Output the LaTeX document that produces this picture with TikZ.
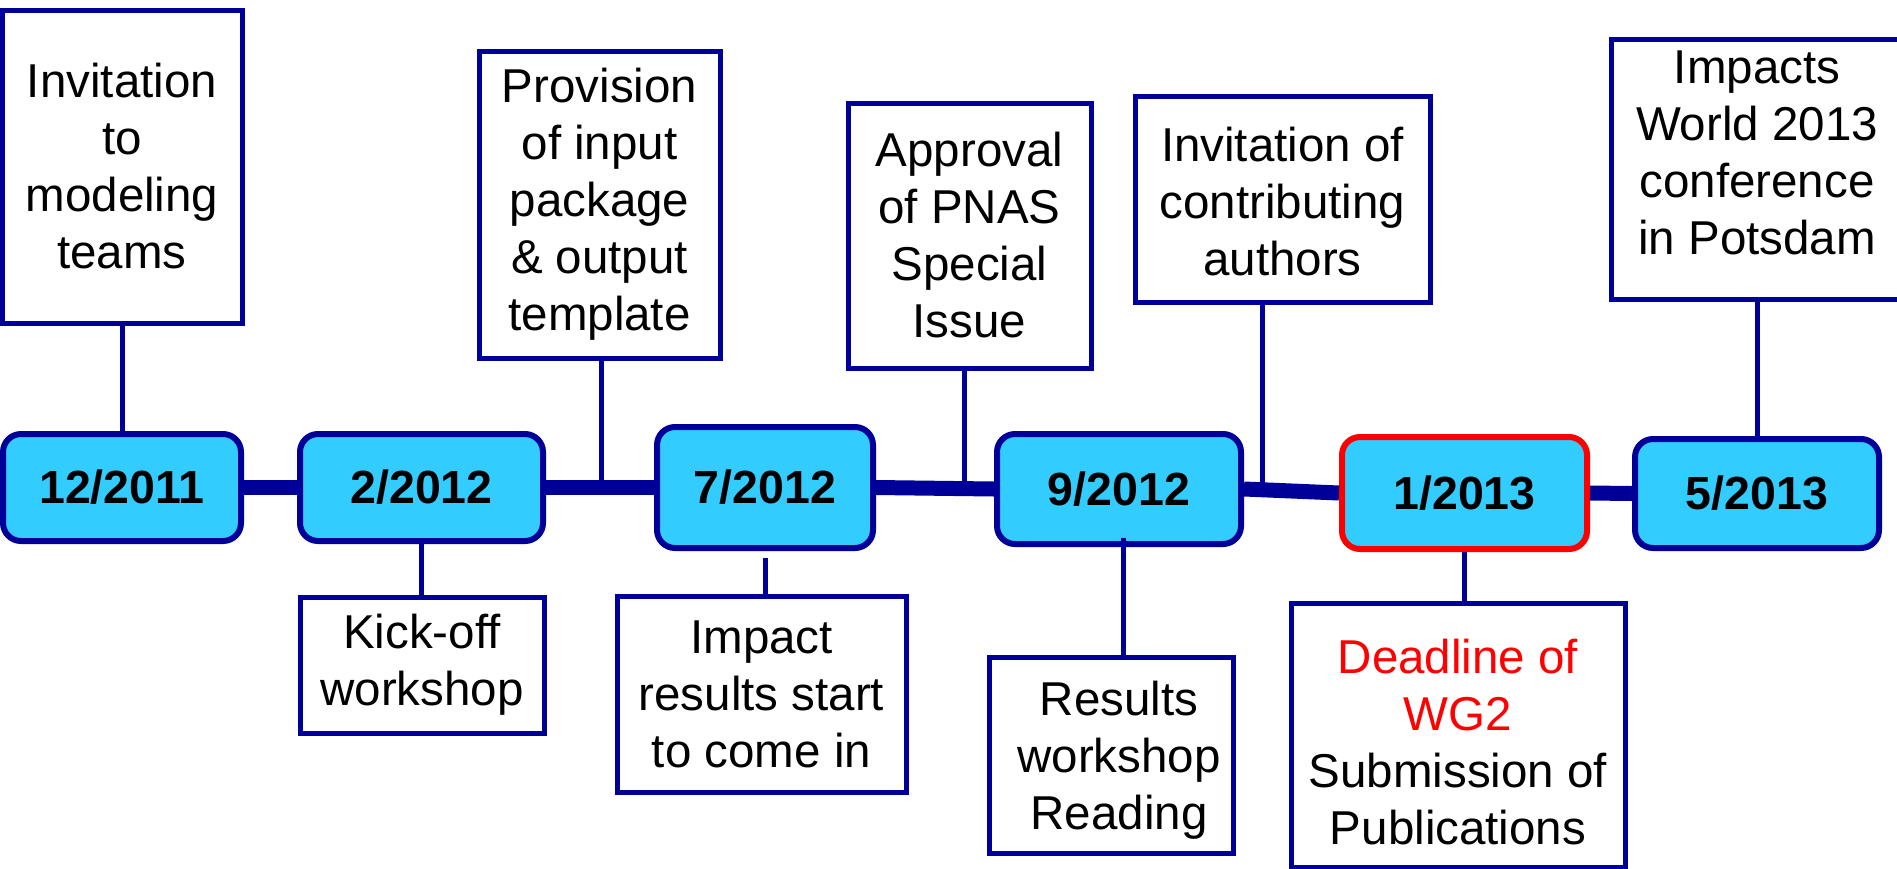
\documentclass[tikz,border=0pt]{standalone}
\usepackage{fontspec}
\setmainfont{Liberation Sans}
\usetikzlibrary{calc}
\definecolor{navy}{HTML}{000099}
\definecolor{cyanfill}{HTML}{33CCFF}
\definecolor{dlred}{HTML}{FF0000}
\begin{document}
\begin{tikzpicture}[x=1pt,y=-1pt,
  tbox/.style={draw=navy, line width=5pt, fill=white, align=center, inner sep=0pt,
               font=\fontsize{47.5}{57}\selectfont},
  ttext/.style={align=center, inner sep=0pt, font=\fontsize{47.5}{57}\selectfont},
  dbox/.style={draw=navy, line width=6pt, fill=cyanfill, rounded corners=18pt, inner sep=0pt,
               font=\fontsize{46.5}{54}\selectfont\bfseries},
  link/.style={draw=navy, line width=5pt},
  tline/.style={draw=navy, line width=15pt}]
\useasboundingbox (0,0) rectangle (1897,868);

% top boxes
\node[tbox, minimum width=240pt, minimum height=313pt] (t1) at (122,166.5) {Invitation\\to\\modeling\\teams};
\node[tbox, minimum width=241pt, minimum height=307pt] (t2) at (599.5,204.5) {Provision\\of input\\package\\\& output\\template};
\node[tbox, minimum width=243pt, minimum height=265pt] (t3) at (969.5,235.5) {Approval\\of PNAS\\Special\\Issue};
\node[tbox, minimum width=295pt, minimum height=206pt] (t4) at (1282.5,199) {};
\node[ttext] (t4txt) at ([yshift=-3pt]t4.center) {Invitation of\\contributing\\authors};
\node[tbox, minimum width=292pt, minimum height=260pt] (t5) at (1757,169) {};
\node[ttext] (t5txt) at ([yshift=16pt]t5.center) {Impacts\\World 2013\\conference\\in Potsdam};

% date boxes
\node[dbox, minimum width=238pt, minimum height=107pt] (d1) at (122,487.5) {12/2011};
\node[dbox, minimum width=243pt, minimum height=107pt] (d2) at (421.5,487.5) {2/2012};
\node[dbox, minimum width=216pt, minimum height=121pt] (d3) at (765,487.5) {7/2012};
\node[dbox, minimum width=244pt, minimum height=110pt] (d4) at (1119,489) {9/2012};
\node[dbox, draw=dlred, minimum width=245pt, minimum height=112pt] (d5) at (1464.5,493) {1/2013};
\node[dbox, minimum width=244pt, minimum height=109pt] (d6) at (1757,493.5) {5/2013};

% bottom boxes
\node[tbox, minimum width=244pt, minimum height=136pt] (b2) at (422,665) {Kick-off\\workshop};
\node[tbox, minimum width=289pt, minimum height=196pt] (b3) at (761.5,694) {Impact\\results start\\to come in};
\node[tbox, minimum width=244pt, minimum height=196pt] (b4) at (1111,755) {};
\node[ttext] (b4txt) at ([xshift=8pt,yshift=-5pt]b4.center) {Results\\workshop\\Reading};
\node[tbox, minimum width=334pt, minimum height=264pt] (b5) at (1458,735) {};
\node[ttext] (b5txt) at ([yshift=-7pt]b5.center) {\textcolor{dlred}{Deadline of}\\\textcolor{dlred}{WG2}\\Submission of\\Publications};

% timeline
\draw[tline] (d1.east) -- (d2.west);
\draw[tline] (d2.east) -- (d3.west);
\draw[tline] (d3.east) -- (d4.west);
\draw[tline] (d4.east) -- (d5.west);
\draw[tline] (d5.east) -- (d6.west);

% points on the timeline
\coordinate (c2) at (601,487);
\coordinate (c3) at (964,487);
\coordinate (c4) at (1262,488);

% connectors
\draw[link] (t1.south) -- (d1.north);
\draw[link] (t2.south -| c2) -- (c2);
\draw[link] (t3.south -| c3) -- (c3);
\draw[link] (t4.south -| c4) -- (c4);
\draw[link] (t5.south) -- (d6.north);
\draw[link] (d2.south) -- (b2.north -| d2.south);
\draw[link] ([yshift=-7pt]d3.south) -- (b3.north -| d3.south);
\draw[link] ([xshift=4pt,yshift=9pt]d4.south) -- (b4.north -| 1123,0);
\draw[link] (d5.south) -- (b5.north -| d5.south);
\end{tikzpicture}
\end{document}
